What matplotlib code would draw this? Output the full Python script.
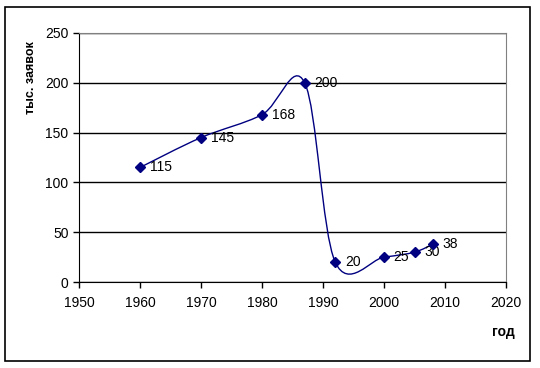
import matplotlib
matplotlib.use('Agg')
import matplotlib.pyplot as plt
import numpy as np
from matplotlib.path import Path
from matplotlib.patches import PathPatch, Rectangle

# данные
years = [1960, 1970, 1980, 1987, 1992, 2000, 2005, 2008]
values = [115, 145, 168, 200, 20, 25, 30, 38]
x_ticks = [1950, 1960, 1970, 1980, 1990, 2000, 2010, 2020]
y_ticks = [0, 50, 100, 150, 200, 250]

plt.rcParams['font.family'] = ['Liberation Sans', 'DejaVu Sans']

fig = plt.figure(figsize=(5.4, 3.68), dpi=100)
fig.patches.append(Rectangle((5/540, 7/368), 525/540, 354/368, transform=fig.transFigure,
                             fill=False, edgecolor='black', linewidth=1.2))
ax = fig.add_axes([79/540, 1 - 282/368, 427/540, 249/368])

# сглаженная линия (как в Excel: кривые Безье)
pts = np.column_stack([years, values]).astype(float)
n = len(pts)
verts = [pts[0]]
codes = [Path.MOVETO]
for i in range(n - 1):
    p0 = pts[i - 1] if i > 0 else pts[i]
    p1 = pts[i]
    p2 = pts[i + 1]
    p3 = pts[i + 2] if i + 2 < n else pts[i + 1]
    verts += [p1 + (p2 - p0) / 6, p2 - (p3 - p1) / 6, p2]
    codes += [Path.CURVE4] * 3
ax.add_patch(PathPatch(Path(verts, codes), fill=False, edgecolor='#000080', linewidth=1, zorder=3))
ax.plot(years, values, linestyle='none', marker='D', color='#000080', markersize=5, zorder=4)

# подписи данных
for x, y in zip(years, values):
    ax.annotate(str(y), (x, y), xytext=(7, 0), textcoords='offset points',
                va='center', ha='left', fontsize=10)

ax.set_xlim(1950, 2020)
ax.set_ylim(0, 250)
ax.set_xticks(x_ticks)
ax.set_yticks(y_ticks)
ax.tick_params(labelsize=10, length=4, width=1, direction='out', colors='black')
ax.tick_params(axis='x', pad=6)
ax.yaxis.grid(True, color='black', linewidth=1)
ax.set_axisbelow(True)
ax.spines['top'].set_color('gray')
ax.spines['right'].set_color('gray')

fig.text(31/540, 1 - 78/368, 'тыс. заявок', rotation=90, ha='center', va='center',
         fontsize=9, fontweight='bold')
fig.text(515/540, 1 - 332/368, 'год', ha='right', va='center', fontsize=10, fontweight='bold')

fig.savefig('out.png', dpi=100)
